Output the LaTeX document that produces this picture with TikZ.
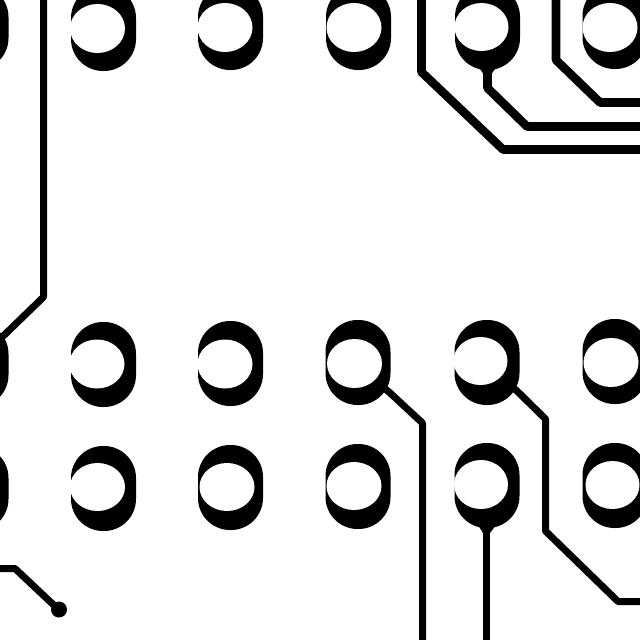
\documentclass[tikz,border=0pt]{standalone}
\tikzset{
  padshape/.style={fill=black,draw=none,rounded corners=32pt},
  holeshape/.style={fill=white,draw=none},
  tracethick/.style={draw=black,line width=8.6pt,line join=round},
  tracemid/.style={draw=black,line width=7pt,line join=round},
}
% pad: centre x, top y, hole centre x, hole centre y, hole rx, hole ry
\newcommand{\pcbpad}[6]{%
  \fill[padshape] ({#1-32.5},{#2}) rectangle ({#1+32.5},{#2+85});
  \fill[holeshape] (#3,#4) ellipse [x radius=#5,y radius=#6];
}
\begin{document}
\begin{tikzpicture}[x=1pt,y=-1pt]
\useasboundingbox (0,0) rectangle (640,640);
\clip (0,0) rectangle (640,640);
\fill[white] (0,0) rectangle (640,640);
% traces
\draw[tracemid] (43.5,-5) -- (43.5,297) -- (-5,344);
\draw[tracethick] (421.5,-5) -- (421.5,72) -- (503,149.5) -- (645,149.5);
\draw[tracethick] (487.5,60) -- (487.5,88) -- (527,126.5) -- (645,126.5);
\draw[tracethick] (556,-5) -- (556,60) -- (600,102.5) -- (645,102.5);
\draw[tracemid] (380,385) -- (389,392) -- (422.5,423) -- (422.5,645);
\draw[tracemid] (486.5,520) -- (486.5,645);
\draw[tracemid] (510,385) -- (517,391) -- (545.5,419) -- (545.5,531) -- (618,601.5) -- (645,601.5);
\draw[tracemid] (-5,568.5) -- (15,568.5) -- (59,610);
\fill (59,609.5) circle [radius=8];
% fillets where traces leave the pads
\fill (478,66) -- (497,66) -- (491.5,74) -- (483.5,74) -- cycle;
\fill (478,525) -- (496,525) -- (490,533) -- (483,533) -- cycle;
% top row
\pcbpad{-24}{-15}{-29}{28}{27.5}{24.5}
\pcbpad{103.5}{-14}{97.5}{28.5}{27.5}{24.5}
\pcbpad{230.5}{-15}{225}{27.5}{27.5}{24.5}
\pcbpad{358.5}{-15}{354}{27.5}{27.5}{24.5}
\pcbpad{487.5}{-15}{481.5}{27}{27}{24}
\pcbpad{615}{-16}{610}{27.5}{27.5}{24.5}
% middle row
\pcbpad{-24}{322}{-30}{364}{27.5}{24.5}
\pcbpad{103.5}{322}{97}{364}{27.5}{24.5}
\pcbpad{230.5}{321}{225}{364}{27.5}{24.5}
\pcbpad{358}{320}{354.5}{363.5}{27.5}{24.5}
\pcbpad{487}{320}{480.5}{361}{27}{24}
\pcbpad{615}{319}{611}{362.5}{27.5}{24.5}
% bottom row
\pcbpad{-24}{446}{-30}{488}{27.5}{24.5}
\pcbpad{103.5}{446}{97.5}{487}{27.5}{24}
\pcbpad{230.5}{445}{227}{487}{27.5}{24}
\pcbpad{358}{444}{354}{486}{27.5}{24}
\pcbpad{487}{443}{481}{484.5}{27}{24.5}
\pcbpad{615}{443}{612.5}{485}{27}{24}
\end{tikzpicture}
\end{document}
